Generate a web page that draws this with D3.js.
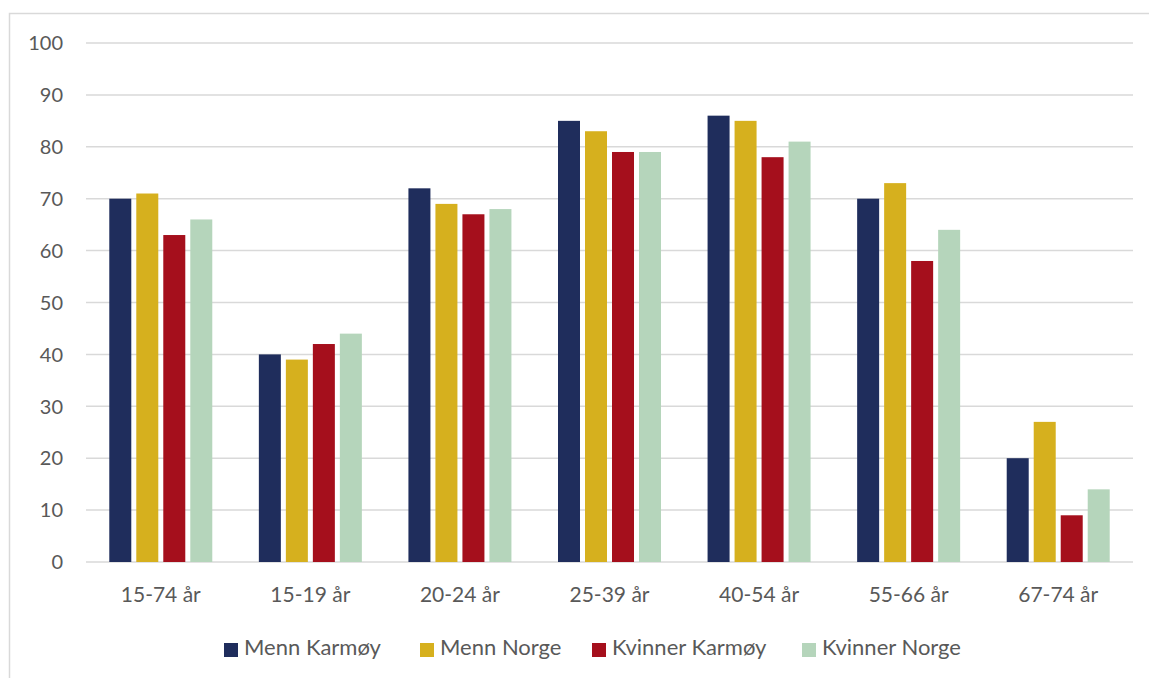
<!DOCTYPE html>
<html>
<head>
<meta charset="utf-8">
<script src="https://cdn.jsdelivr.net/npm/d3@7"></script>
<style>
  html, body { margin: 0; padding: 0; background: #fff; }
  svg { display: block; }
  text { font-family: Lato, "Open Sans", sans-serif; fill: #595959; }
</style>
</head>
<body>
<svg id="chart" width="1149" height="678"></svg>
<script>
// Age groups and series (percent)
const categories = ["15-74 år", "15-19 år", "20-24 år", "25-39 år", "40-54 år", "55-66 år", "67-74 år"];
const seriesNames = ["Menn Karmøy", "Menn Norge", "Kvinner Karmøy", "Kvinner Norge"];
const mennKarmoy    = [70, 40, 72, 85, 86, 70, 20];
const mennNorge     = [71, 39, 69, 83, 85, 73, 27];
const kvinnerKarmoy = [63, 42, 67, 79, 78, 58, 9];
const kvinnerNorge  = [66, 44, 68, 79, 81, 64, 14];
const yTicks = [0, 10, 20, 30, 40, 50, 60, 70, 80, 90, 100];
const colors = ["#1f2d5c", "#d6b01e", "#a50f1c", "#b5d5bb"];

const seriesValues = [mennKarmoy, mennNorge, kvinnerKarmoy, kvinnerNorge];

const svg = d3.select("#chart");

// chart frame
svg.append("rect")
  .attr("x", 9.5).attr("y", 13.5)
  .attr("width", 1160).attr("height", 700)
  .attr("fill", "none").attr("stroke", "#d9d9d9").attr("stroke-width", 1.5);

const plot = { left: 86, right: 1133, top: 43, bottom: 562 };

const x = d3.scaleBand().domain(categories).range([plot.left, plot.right]);
const y = d3.scaleLinear().domain([0, 100]).range([plot.bottom, plot.top]);

const barW = 22, barStep = 27;
const groupW = barW * 4 + (barStep - barW) * 3;

// gridlines
svg.append("g").selectAll("line").data(yTicks).join("line")
  .attr("x1", plot.left).attr("x2", plot.right)
  .attr("y1", d => y(d)).attr("y2", d => y(d))
  .attr("stroke", "#d9d9d9").attr("stroke-width", 1.5);

// y tick labels
svg.append("g").selectAll("text").data(yTicks).join("text")
  .attr("x", 63).attr("y", d => y(d))
  .attr("dy", "0.36em")
  .attr("text-anchor", "end")
  .attr("font-size", 20)
  .text(d => d);

// bars
categories.forEach((cat, ci) => {
  const gx = x(cat) + x.bandwidth() / 2 - groupW / 2;
  seriesValues.forEach((vals, si) => {
    svg.append("rect")
      .attr("x", gx + si * barStep)
      .attr("y", y(vals[ci]))
      .attr("width", barW)
      .attr("height", y(0) - y(vals[ci]))
      .attr("fill", colors[si]);
  });
});

// category labels
svg.append("g").selectAll("text").data(categories).join("text")
  .attr("x", d => x(d) + x.bandwidth() / 2)
  .attr("y", 594.5)
  .attr("dy", "0.36em")
  .attr("text-anchor", "middle")
  .attr("font-size", 21)
  .text(d => d);

// legend
const legendX = [224, 420, 592, 802];
const legend = svg.append("g").selectAll("g").data(seriesNames).join("g")
  .attr("transform", (d, i) => `translate(${legendX[i]},650)`);
legend.append("rect")
  .attr("x", 0).attr("y", -7).attr("width", 14).attr("height", 14)
  .attr("fill", (d, i) => colors[i]);
legend.append("text")
  .attr("x", 20).attr("y", -3).attr("dy", "0.36em")
  .attr("font-size", 22)
  .text(d => d);
</script>
</body>
</html>
